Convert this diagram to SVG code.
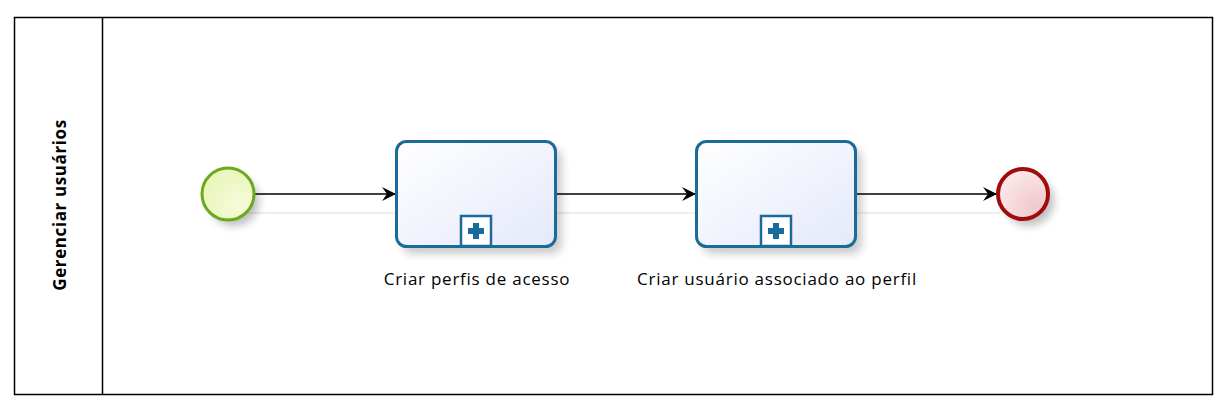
<svg xmlns="http://www.w3.org/2000/svg" width="1229" height="410" viewBox="0 0 1229 410">
<style>
.lbl{font-family:"Open Sans","Liberation Sans",sans-serif;font-size:17px;letter-spacing:0.75px;fill:#000;text-anchor:middle}
.lane{font-family:"Open Sans","Liberation Sans",sans-serif;font-size:17px;letter-spacing:0.6px;font-weight:bold;fill:#000;text-anchor:middle}
.task{fill:url(#tg);stroke:#1a6a9a;stroke-width:3}
.flow{stroke:#000;stroke-width:1.6;fill:none;marker-end:url(#arr)}
.ghost{stroke:#eeeeee;stroke-width:2;fill:none}
</style>
<defs>
<linearGradient id="tg" x1="0" y1="0" x2="1" y2="1"><stop offset="0" stop-color="#ffffff"/><stop offset="1" stop-color="#e4e9fa"/></linearGradient>
<radialGradient id="sg" cx="0.7" cy="0.7" r="0.8"><stop offset="0" stop-color="#f6fbd8"/><stop offset="1" stop-color="#e8f5b8"/></radialGradient>
<radialGradient id="eg" cx="0.75" cy="0.75" r="0.8"><stop offset="0" stop-color="#f0c8cc"/><stop offset="1" stop-color="#fbe8ea"/></radialGradient>
<filter id="sh" x="-30%" y="-30%" width="160%" height="160%"><feGaussianBlur stdDeviation="4"/></filter>
<marker id="arr" viewBox="0 0 14 14" refX="13" refY="7" markerWidth="14" markerHeight="14" markerUnits="userSpaceOnUse" orient="auto"><path d="M0,0 L14,7 L0,14 L5,7 Z" fill="#000"/></marker>
</defs>
<g id="pool">
<rect x="14.5" y="17.5" width="1198" height="377" fill="#fff" stroke="#000" stroke-width="1.5"/>
<line x1="102.5" y1="17.5" x2="102.5" y2="394.5" stroke="#000" stroke-width="1.5"/>
<text class="lane" transform="translate(66,205) rotate(-90)">Gerenciar usuários</text>
</g>
<g id="connectors">
<line class="ghost" x1="244" y1="213" x2="396" y2="213"/>
<line class="ghost" x1="556" y1="213" x2="696" y2="213"/>
<line class="ghost" x1="856" y1="213" x2="1000" y2="213"/>
<line class="flow" x1="255" y1="194" x2="395" y2="194"/>
<line class="flow" x1="557" y1="194" x2="695" y2="194"/>
<line class="flow" x1="857" y1="194" x2="996" y2="194"/>
</g>
<g id="start">
<circle cx="234" cy="201" r="25" fill="#000" opacity="0.25" filter="url(#sh)"/>
<circle cx="228" cy="194" r="26" fill="url(#sg)" stroke="#6aaa1e" stroke-width="3"/>
</g>
<g id="task1">
<rect x="402" y="148" width="160" height="106" rx="10" fill="#000" opacity="0.2" filter="url(#sh)"/>
<rect class="task" x="396.5" y="141.5" width="159" height="105" rx="10"/>
<rect x="461" y="216" width="30" height="30" fill="#fff" stroke="#1a6a9a" stroke-width="2.5"/>
<path d="M473,223 h6 v5 h5 v6 h-5 v5 h-6 v-5 h-5 v-6 h5 z" fill="#1a6a9a"/>
<text class="lbl" x="477" y="285">Criar perfis de acesso</text>
</g>
<g id="task2">
<rect x="702" y="148" width="160" height="106" rx="10" fill="#000" opacity="0.2" filter="url(#sh)"/>
<rect class="task" x="696.5" y="141.5" width="159" height="105" rx="10"/>
<rect x="761" y="216" width="30" height="30" fill="#fff" stroke="#1a6a9a" stroke-width="2.5"/>
<path d="M773,223 h6 v5 h5 v6 h-5 v5 h-6 v-5 h-5 v-6 h5 z" fill="#1a6a9a"/>
<text class="lbl" x="777" y="285">Criar usuário associado ao perfil</text>
</g>
<g id="end">
<circle cx="1029" cy="201" r="25" fill="#000" opacity="0.25" filter="url(#sh)"/>
<circle cx="1023" cy="194" r="25" fill="url(#eg)" stroke="#a00c0c" stroke-width="4"/>
</g>
</svg>
